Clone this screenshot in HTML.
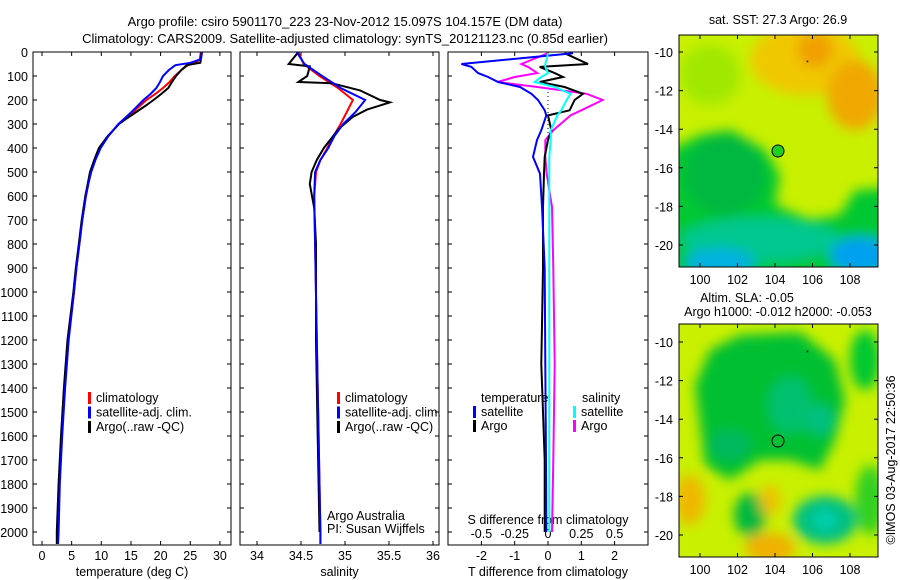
<!DOCTYPE html>
<html><head><meta charset="utf-8"><style>
body{margin:0;background:#fff;}
svg{display:block;font-family:"Liberation Sans",sans-serif;}
text{font-size:12.5px;fill:#000;}
</style></head><body>
<svg id="fig" width="900" height="580" viewBox="0 0 900 580">
<defs>
<filter id="bl1" x="-50%" y="-50%" width="200%" height="200%"><feGaussianBlur stdDeviation="6"/></filter>
<clipPath id="c1"><rect x="679" y="35" width="199" height="232"/></clipPath>
<clipPath id="c2"><rect x="679" y="324" width="199" height="233"/></clipPath>
<clipPath id="cp1"><rect x="33" y="52" width="198" height="493"/></clipPath>
<clipPath id="cp2"><rect x="240" y="52" width="199" height="493"/></clipPath>
<clipPath id="cp3"><rect x="448" y="52" width="200" height="493"/></clipPath>
</defs>
<text x="345" y="26" text-anchor="middle" style="font-size:13px">Argo profile: csiro 5901170_223 23-Nov-2012 15.097S 104.157E (DM data)</text>
<text x="345" y="43" text-anchor="middle" style="font-size:13px">Climatology: CARS2009. Satellite-adjusted climatology: synTS_20121123.nc (0.85d earlier)</text>

<g clip-path="url(#c1)">
<rect x="679" y="35" width="199" height="232" fill="#c8f000"/>
<g filter="url(#bl1)">
<ellipse cx="805" cy="60" rx="55" ry="35" fill="#f0c800"/>
<ellipse cx="855" cy="95" rx="28" ry="35" fill="#f0a800"/>
<ellipse cx="815" cy="50" rx="18" ry="18" fill="#f0a000"/>
<ellipse cx="710" cy="75" rx="30" ry="30" fill="#a0e800"/>
<polygon points="670,150 700,135 730,130 765,150 780,175 775,205 810,220 840,215 855,190 890,188 890,280 670,280" fill="#00c830"/>
<ellipse cx="725" cy="175" rx="40" ry="40" fill="#00b840"/>
<ellipse cx="760" cy="240" rx="80" ry="22" fill="#00c890"/>
<ellipse cx="720" cy="262" rx="35" ry="14" fill="#00b0e0"/>
<ellipse cx="860" cy="255" rx="30" ry="18" fill="#00a0f0"/>
</g>
<circle cx="778" cy="151" r="6" fill="#20d020" stroke="#000" stroke-width="1"/>
<text x="806" y="65" style="font-size:7px">*</text>
</g>
<rect x="679" y="35" width="199" height="232" fill="none" stroke="#000"/>
<text x="778" y="24" text-anchor="middle">sat. SST: 27.3 Argo: 26.9</text>

<g clip-path="url(#c2)">
<rect x="679" y="324" width="199" height="233" fill="#c8f000"/>
<g filter="url(#bl1)">
<polygon points="695,385 710,350 740,335 800,332 835,360 845,400 835,440 820,470 790,460 760,460 730,480 705,465" fill="#00c030"/>
<ellipse cx="790" cy="405" rx="22" ry="28" fill="#00c070"/>
<ellipse cx="820" cy="420" rx="15" ry="15" fill="#00c080"/>
<ellipse cx="730" cy="445" rx="20" ry="15" fill="#00b860"/>
<ellipse cx="825" cy="520" rx="32" ry="24" fill="#00c080"/>
<ellipse cx="825" cy="520" rx="12" ry="10" fill="#00d0b0"/>
<ellipse cx="750" cy="515" rx="16" ry="22" fill="#00b840"/>
<ellipse cx="865" cy="360" rx="15" ry="30" fill="#00c830"/>
<ellipse cx="870" cy="500" rx="15" ry="35" fill="#30d020"/>
<ellipse cx="690" cy="500" rx="15" ry="25" fill="#f0b800"/>
<ellipse cx="770" cy="548" rx="25" ry="15" fill="#f0b000"/>
<ellipse cx="770" cy="500" rx="10" ry="15" fill="#f0c000"/>
</g>
<circle cx="778" cy="441" r="6" fill="none" stroke="#000" stroke-width="1"/>
<text x="806" y="355" style="font-size:7px">*</text>
</g>
<rect x="679" y="324" width="199" height="233" fill="none" stroke="#000"/>
<text x="747" y="302" text-anchor="middle">Altim. SLA: -0.05</text>
<text x="778" y="316" text-anchor="middle">Argo h1000: -0.012 h2000: -0.053</text>
<text transform="translate(895,460) rotate(-90)" text-anchor="middle">©IMOS 03-Aug-2017 22:50:36</text>
<g id="dyn"></g>
</svg>
<script>
const NS="http://www.w3.org/2000/svg";
const root=document.getElementById('dyn');
function el(t,a,p){const e=document.createElementNS(NS,t);for(const k in a)e.setAttribute(k,a[k]);(p||root).appendChild(e);return e;}
// ---- data ----
const depthTicks=[0,100,200,300,400,500,600,700,800,900,1000,1100,1200,1300,1400,1500,1600,1700,1800,1900,2000];
const tempTicks=[0,5,10,15,20,25,30];
const salTicks=[34,34.5,35,35.5,36];
const tdiffTicks=[-2,-1,0,1,2];
const sdiffTicks=[-0.5,-0.25,0,0.25,0.5];
const sdiffLabels=["-0.5","-0.25","0","0.25","0.5"];
const tDepth=[0,30,45,55,75,100,125,150,175,200,225,250,275,300,350,400,450,500,550,600,700,800,900,1000,1200,1400,1600,1800,2000,2050];
const tClim=[26.8,26.6,26.0,24.6,23.5,22.4,21.5,20.4,19.1,17.6,16.5,15.4,14.1,12.9,11.2,9.8,8.9,8.2,7.8,7.4,6.8,6.3,5.8,5.4,4.4,3.8,3.3,2.9,2.7,2.6];
const tSat=[27.0,26.8,25.0,22.5,21.4,20.4,19.9,19.3,18.3,17.1,16.1,15.1,14.0,12.9,11.2,9.9,9.0,8.3,7.8,7.4,6.8,6.3,5.8,5.4,4.5,3.9,3.4,3.0,2.8,2.7];
const tArgo=[26.9,26.8,26.7,24.4,23.5,22.6,21.9,21.3,20.1,18.8,17.4,15.9,14.4,13.0,11.1,9.6,8.8,8.1,7.7,7.3,6.7,6.2,5.7,5.3,4.3,3.7,3.2,2.8,2.5,2.5];
const sDepth=[0,50,100,150,200,250,300,350,400,450,500,600,800,1200,1600,2000,2050];
const sClim=[34.47,34.53,34.71,34.92,35.09,35.02,34.95,34.87,34.80,34.72,34.67,34.65,34.66,34.68,34.70,34.72,34.72];
const sSat=[34.45,34.54,34.74,34.95,35.23,35.12,34.98,34.88,34.81,34.72,34.66,34.65,34.66,34.68,34.70,34.72,34.72];
const aDepth=[0,50,60,100,125,130,160,200,210,240,270,320,400,450,500,550,650,800,1200,1600,2000];
const sArgo=[34.47,34.36,34.6,34.57,34.47,34.85,35.17,35.4,35.51,35.25,35.09,34.93,34.76,34.68,34.62,34.6,34.65,34.67,34.67,34.69,34.71];
const dDepth=[5,50,62,88,104,125,146,174,200,243,264,326,367,437,507,646,900,1300,1700,2000];
const dtSat=[0.75,-2.6,-2.3,-2.1,-1.8,-1.5,-0.84,-0.5,-0.3,-0.1,-0.05,-0.2,-0.33,-0.45,-0.24,-0.18,-0.1,-0.08,-0.06,-0.05];
const dtArgo=[0.5,1.2,-0.25,0.2,0.45,-0.25,0.5,1.05,0.8,0.65,0,0.1,0,-0.1,-0.12,-0.15,-0.15,-0.2,-0.1,-0.1];
const dsArgo=[0,-0.2,-0.15,-0.08,-0.25,-0.38,-0.08,0.29,0.41,0.25,0.17,0.04,-0.02,-0.02,-0.01,0.03,0.04,0.05,0.04,0.03];
const dsSat=[0,-0.02,-0.02,0,-0.05,-0.1,0.05,0.17,0.14,0.1,0.07,0.02,0.02,0.01,0.01,0.01,0.01,0.01,0.01,0.01];
// ---- axes ----
const Y0=52,YS=0.24;
const yOf=d=>Y0+YS*d;
const P=[{x0:33,x1:231,clip:'cp1',fx:v=>42+5.93*v},{x0:240,x1:439,clip:'cp2',fx:v=>257+88*(v-34)},{x0:448,x1:648,clip:'cp3',fx:v=>548+33.3*v}];
const fS=v=>548+133.2*v;
const TOP=52,BOT=545;
P.forEach((p,i)=>{
  const r=el('rect',{x:p.x0,y:TOP,width:p.x1-p.x0,height:BOT-TOP,fill:'none',stroke:'#000'});
  
  
  depthTicks.forEach(d=>{
    const t=el('path',{d:`M${p.x0},${yOf(d)}h4M${p.x1},${yOf(d)}h-4`,stroke:'#000'});
    
    
  });
});
depthTicks.forEach(d=>{
  const t=el('text',{x:28,y:yOf(d)+5,'text-anchor':'end'});t.textContent=d;
  
  
});
function xaxis(p,ticks,labels,f,title){
  ticks.forEach((v,i)=>{
    const x=f(v);
    const t=el('path',{d:`M${x},${BOT}v-4M${x},${TOP}v4`,stroke:'#000'});
    
    
    const l=el('text',{x:x,y:560,'text-anchor':'middle'});l.textContent=labels[i];
    
    
  });
  const tt=el('text',{x:(p.x0+p.x1)/2,y:576,'text-anchor':'middle'});tt.textContent=title;
  
  
}
xaxis(P[0],tempTicks,tempTicks.map(String),P[0].fx,'temperature (deg C)');
xaxis(P[1],salTicks,salTicks.map(String),P[1].fx,'salinity');
xaxis(P[2],tdiffTicks,tdiffTicks.map(String),P[2].fx,'T difference from climatology');
sdiffTicks.forEach((v,i)=>{
  const l=el('text',{x:fS(v),y:538,'text-anchor':'middle'});l.textContent=sdiffLabels[i];
  
  
});
const st=el('text',{x:548,y:524,'text-anchor':'middle'});st.textContent='S difference from climatology';


const z=el('line',{x1:548,x2:548,y1:yOf(150),y2:yOf(380),stroke:'#000','stroke-dasharray':'1,3'});


// ---- series ----
function line(depths,vals,f,color,clip,name){
  const d=vals.map((v,i)=>(i?'L':'M')+f(v).toFixed(1)+','+yOf(depths[i]).toFixed(1)).join('');
  const e=el('path',{d:d,fill:'none',stroke:color,'stroke-width':2,'clip-path':`url(#${clip})`});
  
  
}
line(tDepth,tClim,P[0].fx,'#f00','cp1','temp-climatology');
line(tDepth,tArgo,P[0].fx,'#000','cp1','temp-argo');
line(tDepth,tSat,P[0].fx,'#00f','cp1','temp-satellite');
line(sDepth,sClim,P[1].fx,'#f00','cp2','sal-climatology');
line(aDepth,sArgo,P[1].fx,'#000','cp2','sal-argo');
line(sDepth,sSat,P[1].fx,'#00f','cp2','sal-satellite');
line(dDepth,dsArgo,fS,'#f0f','cp3','sdiff-argo');
line(dDepth,dtArgo,P[2].fx,'#000','cp3','tdiff-argo');
line(dDepth,dtSat,P[2].fx,'#00f','cp3','tdiff-satellite');
line(dDepth,dsSat,fS,'#0ff','cp3','sdiff-satellite');
// ---- legends ----
function leg(x,y,color,label){
  const b=el('rect',{x:x,y:y-10,width:3,height:12,fill:color});
  
  
  const t=el('text',{x:x+8,y:y});t.textContent=label;
  
  
}
[[88,'#f00','climatology'],[88,'#00f','satellite-adj. clim.'],[88,'#000','Argo(..raw -QC)']].forEach((a,i)=>leg(a[0],402+i*14.5,a[1],a[2]));
[[337,'#f00','climatology'],[337,'#00f','satellite-adj. clim.'],[337,'#000','Argo(..raw -QC)']].forEach((a,i)=>leg(a[0],402+i*14.5,a[1],a[2]));
function txt(x,y,s,name){const t=el('text',{x:x,y:y});t.textContent=s;}
txt(481,402,'temperature','legend-temperature-heading');
txt(582,402,'salinity','legend-salinity-heading');
leg(473,416,'#00f','satellite');leg(473,430,'#000','Argo');
leg(573,416,'#0ff','satellite');leg(573,430,'#f0f','Argo');
txt(327,520,'Argo Australia','credit-line-1');
txt(327,533,'PI: Susan Wijffels','credit-line-2');
// ---- map axes ----
const lonTicks=[100,102,104,106,108];
const latTicks=[-10,-12,-14,-16,-18,-20];
const lonX=v=>700+18.75*(v-100);
[[35,267,52,245],[324,557,342,535]].forEach((m,k)=>{
  const latY=v=>m[2]+(m[3]-m[2])*(-10-v)/10;
  lonTicks.forEach(v=>{
    const t=el('path',{d:`M${lonX(v)},${m[1]}v-4M${lonX(v)},${m[0]}v4`,stroke:'#000'});
    
    
    const l=el('text',{x:lonX(v),y:m[1]+17,'text-anchor':'middle'});l.textContent=v;
    
    
  });
  latTicks.forEach(v=>{
    const t=el('path',{d:`M679,${latY(v)}h4M878,${latY(v)}h-4`,stroke:'#000'});
    
    
    const l=el('text',{x:673,y:latY(v)+5,'text-anchor':'end'});l.textContent=v;
    
    
  });
});
</script>
</body></html>
